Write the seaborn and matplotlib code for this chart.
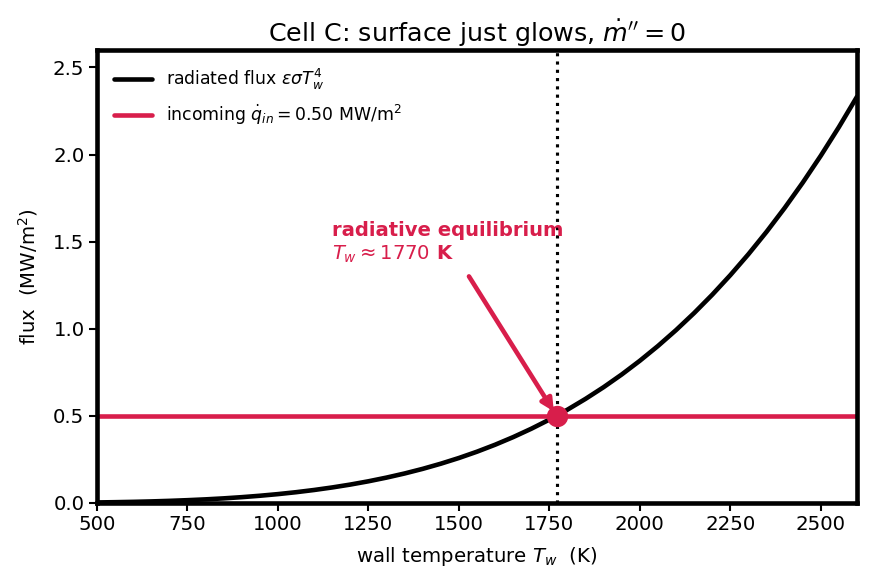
import matplotlib
matplotlib.use("Agg")
import matplotlib.pyplot as plt
import seaborn as sns
import pandas as pd

# wall temperature (K) and radiated flux (MW/m^2)
temperature = [500, 550, 600, 650, 700, 750, 800, 850, 900, 950, 1000, 1050, 1100,
               1150, 1200, 1250, 1300, 1350, 1400, 1450, 1500, 1550, 1600, 1650,
               1700, 1750, 1800, 1850, 1900, 1950, 2000, 2050, 2100, 2150, 2200,
               2250, 2300, 2350, 2400, 2450, 2500, 2550, 2600]
radiated_flux = [0.0032, 0.0047, 0.0066, 0.0091, 0.0123, 0.0162, 0.0209, 0.0266,
                 0.0335, 0.0416, 0.0510, 0.0620, 0.0747, 0.0893, 0.1058, 0.1246,
                 0.1458, 0.1695, 0.1960, 0.2256, 0.2583, 0.2945, 0.3344, 0.3782,
                 0.4262, 0.4786, 0.5357, 0.5978, 0.6650, 0.7378, 0.8165, 0.9012,
                 0.9924, 1.0904, 1.1954, 1.3079, 1.4280, 1.5563, 1.6931, 1.8386,
                 1.9934, 2.1577, 2.3320]
q_in = 0.50
T_eq = 1770
x_ticks = [500, 750, 1000, 1250, 1500, 1750, 2000, 2250, 2500]
y_ticks = [0.0, 0.5, 1.0, 1.5, 2.0, 2.5]

RED = "#d81e4b"

sns.set_style("white")
plt.rcParams["font.family"] = ["DejaVu Sans"]
plt.rcParams["mathtext.fontset"] = "dejavusans"
plt.rcParams["text.color"] = "black"
plt.rcParams["axes.labelcolor"] = "black"
plt.rcParams["xtick.color"] = "black"
plt.rcParams["ytick.color"] = "black"
plt.rcParams["axes.titlecolor"] = "black"

fig = plt.figure(figsize=(871 / 150, 583 / 150), dpi=150)
ax = fig.add_axes([97 / 871, 1 - 503 / 583, 760 / 871, 453 / 583])

df = pd.DataFrame({"T": temperature, "flux": radiated_flux})
sns.lineplot(data=df, x="T", y="flux", ax=ax, color="black", linewidth=2.2,
             label=r"radiated flux $\varepsilon\sigma T_w^4$")
ax.axhline(q_in, color=RED, linewidth=2.2,
           label=r"incoming $\dot{q}_{in} = 0.50$ MW/m$^2$")
ax.axvline(T_eq, color="black", linestyle=":", linewidth=1.5)
sns.scatterplot(x=[T_eq], y=[q_in], ax=ax, color=RED, s=90, edgecolor=RED,
                zorder=5, legend=False)

ax.annotate("radiative equilibrium\n" + r"$T_w \approx 1770$ K",
            xy=(T_eq, q_in), xytext=(1150, 1.368),
            ha="left", va="bottom", color=RED, fontsize=9.4, fontweight="bold",
            arrowprops=dict(arrowstyle="-|>", color=RED, lw=2.2,
                            shrinkA=4, shrinkB=2.5, mutation_scale=12))

ax.set_xlim(500, 2600)
ax.set_ylim(0, 2.6)
ax.set_xticks(x_ticks)
ax.set_yticks(y_ticks)
ax.set_xticklabels([str(v) for v in x_ticks], fontsize=9.5)
ax.set_yticklabels([f"{v:.1f}" for v in y_ticks], fontsize=9.5)
ax.tick_params(axis="both", direction="out", length=4, width=1, color="black",
               bottom=True, left=True, pad=2)
for s in ax.spines.values():
    s.set_visible(True)
    s.set_color("black")
    s.set_linewidth(2.2)

ax.set_xlabel(r"wall temperature $T_w$  (K)", fontsize=9.5, labelpad=5)
ax.set_ylabel(r"flux  (MW/m$^2$)", fontsize=9.5, labelpad=6)
ax.set_title(r"Cell C: surface just glows, $\dot{m}'' = 0$", fontsize=12.2, pad=4)

ax.legend(loc="upper left", frameon=False, fontsize=8.3, handlelength=2.2,
          borderaxespad=0.6, labelspacing=0.6)

fig.savefig("out.png", dpi=150)
